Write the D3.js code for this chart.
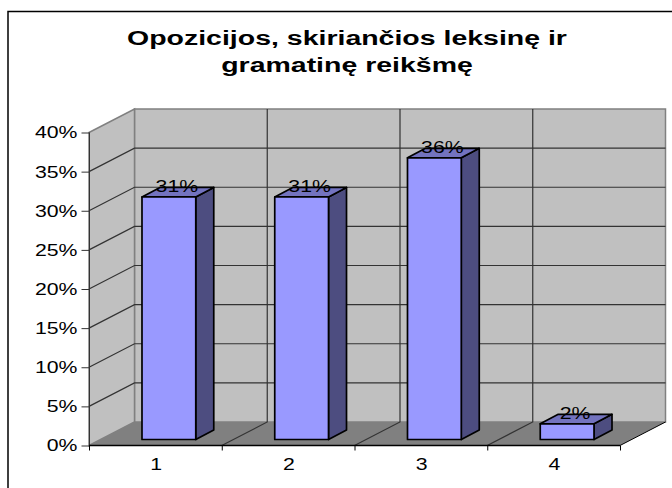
<!DOCTYPE html>
<html lang="en">
<head>
<meta charset="UTF-8">
<title>Opozicijos</title>
<style>
html, body { margin: 0; background: #fff; overflow: hidden; }
svg { display: block; }
text { font-family: "Liberation Sans", Arial, sans-serif; fill: #000; }
</style>
</head>
<body>
<div id="container"></div>
<script src="https://cdnjs.cloudflare.com/ajax/libs/d3/7.8.5/d3.min.js"></script>
<script>
var titleLines = ['Opozicijos, skiriančios leksinę ir', 'gramatinę reikšmę'];
var categories = ['1', '2', '3', '4'];
var values = [0.31, 0.31, 0.36, 0.02];
var yTicks = [0, 0.05, 0.1, 0.15, 0.2, 0.25, 0.3, 0.35, 0.4];

var width = 672, height = 488;
var svg = d3.select('#container').append('svg')
  .attr('width', width)
  .attr('height', height);

// the reference text is wider than the font, so stretch it sideways
function stretch(sel, factor) {
  sel.each(function() {
    d3.select(this)
      .attr('textLength', this.getComputedTextLength() * factor)
      .attr('lengthAdjust', 'spacingAndGlyphs');
  });
}

// frame, only left and top show in the crop
svg.append('path')
  .attr('d', 'M8,488V11.5H672')
  .attr('fill', 'none')
  .attr('stroke', '#000')
  .attr('stroke-width', 1.5);

// title
svg.selectAll('.title').data(titleLines).enter().append('text')
  .attr('class', 'title')
  .attr('x', 347)
  .attr('y', (d, i) => 44.5 + i * 27.5)
  .attr('text-anchor', 'middle')
  .style('font-size', '19.5px')
  .style('font-weight', 'bold')
  .text(d => d)
  .call(stretch, 1.46);

var x = d3.scaleBand().domain(categories).range([89, 620]);
var y = d3.scaleLinear().domain([0, 0.4]).range([445.5, 132.5]);

// 3d offset of the back wall
var depthX = 45.5, depthY = -23.5;
var bandW = x.bandwidth();
var barW = bandW * 0.405;

var wallFill = '#c0c0c0', floorFill = '#808080', gridCol = '#333';

// back wall
svg.append('path')
  .attr('d', d3.line()([
    [x.range()[0] + depthX, y(0.4) + depthY],
    [x.range()[1] + depthX, y(0.4) + depthY],
    [x.range()[1] + depthX, y(0) + depthY],
    [x.range()[0] + depthX, y(0) + depthY]]) + 'Z')
  .attr('fill', wallFill)
  .attr('stroke', '#808080')
  .attr('stroke-width', 1.5);

// side wall
svg.append('path')
  .attr('d', d3.line()([
    [x.range()[0], y(0.4)],
    [x.range()[0] + depthX, y(0.4) + depthY],
    [x.range()[0] + depthX, y(0) + depthY],
    [x.range()[0], y(0)]]) + 'Z')
  .attr('fill', wallFill)
  .attr('stroke', '#808080')
  .attr('stroke-width', 1.5);

// floor
svg.append('path')
  .attr('d', d3.line()([
    [x.range()[0], y(0)],
    [x.range()[0] + depthX, y(0) + depthY],
    [x.range()[1] + depthX, y(0) + depthY],
    [x.range()[1], y(0)]]) + 'Z')
  .attr('fill', floorFill);

// horizontal gridlines on both walls
yTicks.slice(1, -1).forEach(function(t) {
  svg.append('path')
    .attr('d', d3.line()([
      [x.range()[0], y(t)],
      [x.range()[0] + depthX, y(t) + depthY],
      [x.range()[1] + depthX, y(t) + depthY]]))
    .attr('fill', 'none')
    .attr('stroke', gridCol)
    .attr('stroke-width', 1.2);
});

// vertical gridlines on wall and floor
categories.slice(1).forEach(function(c) {
  svg.append('path')
    .attr('d', d3.line()([
      [x(c), y(0)],
      [x(c) + depthX, y(0) + depthY],
      [x(c) + depthX, y(0.4) + depthY]]))
    .attr('fill', 'none')
    .attr('stroke', gridCol)
    .attr('stroke-width', 1.2);
});
svg.append('path')
  .attr('d', d3.line()([
    [x.range()[1], y(0)],
    [x.range()[1] + depthX, y(0) + depthY]]))
  .attr('fill', 'none')
  .attr('stroke', '#000')
  .attr('stroke-width', 1);

// axes
var yAxis = d3.axisLeft(y).tickValues(yTicks).tickFormat(d3.format('.0%')).tickSize(8).tickPadding(4);
var gy = svg.append('g').attr('transform', 'translate(89.5,0)').call(yAxis);
gy.select('.domain').attr('stroke', '#333').attr('d', 'M0,' + y(0.4) + 'V' + y(0));
gy.selectAll('line').attr('stroke', '#333');
gy.selectAll('text')
  .style('font-size', '17px')
  .style('font-family', '"Liberation Sans", Arial, sans-serif')
  .attr('fill', '#000')
  .call(stretch, 1.25);

var xAxis = d3.axisBottom(x).tickSize(0).tickPadding(12);
var gx = svg.append('g').attr('transform', 'translate(0.7,445.5)').call(xAxis);
gx.select('.domain').attr('stroke', '#000').attr('stroke-width', 1.3).attr('d', 'M88.3,0H619.3');
gx.selectAll('text')
  .style('font-size', '17px')
  .style('font-family', '"Liberation Sans", Arial, sans-serif')
  .attr('fill', '#000')
  .call(stretch, 1.25);
svg.selectAll('.xtick').data(x.domain().concat('end')).enter().append('line')
  .attr('class', 'xtick')
  .attr('x1', d => (d === 'end' ? x.range()[1] : x(d)) + 0.5)
  .attr('x2', d => (d === 'end' ? x.range()[1] : x(d)) + 0.5)
  .attr('y1', y(0))
  .attr('y2', y(0) + 5)
  .attr('stroke', '#000');

// bars
var offX = 13.5, offY = -6, barDX = 18, barDY = -9.5;
var bars = svg.selectAll('.bar').data(values).enter().append('g').attr('class', 'bar');
var left = (d, i) => x(categories[i]) + (bandW - barW) / 2 + offX;
var top_ = d => y(d) + offY;
var base = y(0) + offY;

bars.append('path') // side
  .attr('d', function(d, i) {
    var l = left(d, i) + barW;
    return d3.line()([[l, top_(d)], [l + barDX, top_(d) + barDY], [l + barDX, base + barDY], [l, base]]) + 'Z';
  })
  .attr('fill', '#4d4d80');
bars.append('path') // top
  .attr('d', function(d, i) {
    var l = left(d, i);
    return d3.line()([[l, top_(d)], [l + barDX, top_(d) + barDY], [l + barW + barDX, top_(d) + barDY], [l + barW, top_(d)]]) + 'Z';
  })
  .attr('fill', '#7373bf');
bars.append('rect') // front
  .attr('x', (d, i) => left(d, i))
  .attr('y', d => top_(d))
  .attr('width', barW)
  .attr('height', d => base - top_(d))
  .attr('fill', '#9999ff');
bars.selectAll('path, rect')
  .attr('stroke', '#000')
  .attr('stroke-width', 1.7)
  .attr('stroke-linejoin', 'round');

// value labels
bars.append('text')
  .attr('x', (d, i) => left(d, i) + barW / 2 + 8)
  .attr('y', d => top_(d) - 4.5)
  .attr('text-anchor', 'middle')
  .style('font-size', '17px')
  .text(d => d3.format('.0%')(d))
  .call(stretch, 1.25);
</script>
</body>
</html>
